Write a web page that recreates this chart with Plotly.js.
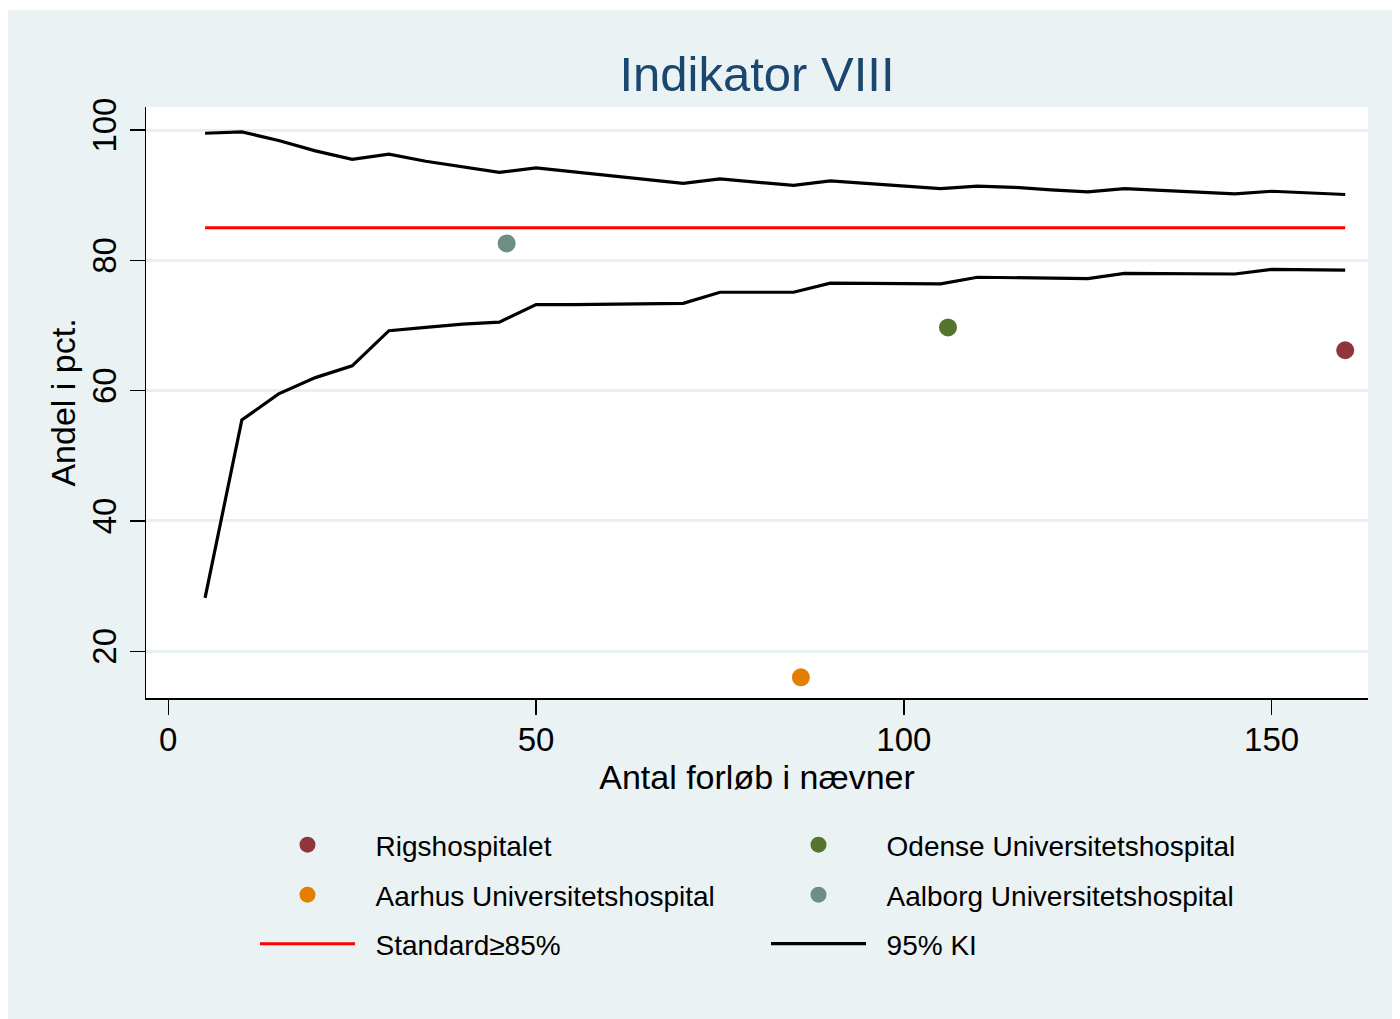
<!DOCTYPE html>
<html>
<head>
<meta charset="utf-8">
<script src="https://cdn.plot.ly/plotly-3.0.1.min.js"></script>
<style>html,body{margin:0;padding:0;background:#fff;}#chart{width:1400px;height:1019px;}</style>
</head>
<body>
<div id="chart"></div>
<script>
// ---- data ----
const ciX = [5,10,15,20,25,30,35,40,45,50,55,60,65,70,75,80,85,90,95,100,105,110,115,120,125,130,135,140,145,150,155,160];
const ciUpper = [99.5,99.7,98.4,96.8,95.5,96.3,95.2,94.4,93.5,94.2,93.6,92.9,92.4,91.8,92.5,92.0,91.5,92.2,91.8,91.4,91.0,91.4,91.2,90.8,90.5,91.0,90.7,90.4,90.2,90.6,90.4,90.1];
const ciLower = [28.2,55.5,59.5,62.0,63.8,69.2,69.7,70.2,70.5,73.2,73.2,73.3,73.4,73.4,75.1,75.1,75.1,76.5,76.5,76.4,76.4,77.4,77.3,77.3,77.2,78.0,78.0,77.9,77.9,78.6,78.6,78.5];
const standardX = [5,160];
const standardY = [85,85];
const hospitals = ["Rigshospitalet","Odense Universitetshospital","Aarhus Universitetshospital","Aalborg Universitetshospital"];
const hospN = [160,106,86,46];
const hospPct = [66.2,69.7,16.0,82.6];
const xTicks = [0,50,100,150];
const yTicks = [20,40,60,80,100];

// ---- styles ----
const hospColors = ["#90353B","#55752F","#E37E00","#6E8E84"];
const hospLegend = ["legend","legend","legend2","legend2"];
const FONT = "Liberation Sans, Arial, Helvetica, sans-serif";
const PAD = "\u00A0\u00A0";

const traces = [];
hospitals.forEach((h,i)=>{
  traces.push({
    type:"scatter", mode:"markers", name:PAD+h,
    x:[hospN[i]], y:[hospPct[i]],
    marker:{color:hospColors[i], size:18},
    legend: hospLegend[i]
  });
});
traces.push({type:"scatter",mode:"lines",name:PAD+"Standard≥85%",x:standardX,y:standardY,
  line:{color:"#FF0000",width:3},legend:"legend3"});
traces.push({type:"scatter",mode:"lines",name:PAD+"95% KI",x:ciX,y:ciUpper,
  line:{color:"#000000",width:3.2},legend:"legend3",legendgroup:"ki"});
traces.push({type:"scatter",mode:"lines",name:PAD+"95% KI",x:ciX,y:ciLower,
  line:{color:"#000000",width:3.2},legend:"legend3",legendgroup:"ki",showlegend:false});

function leg(ypx){
  return {orientation:"h", x:(255-146)/1222, xanchor:"left", y:(698-ypx)/591, yanchor:"middle",
    entrywidth:401, entrywidthmode:"pixels", itemwidth:95, bgcolor:"rgba(0,0,0,0)",
    font:{family:FONT,size:28,color:"#000"}, traceorder:"normal"};
}

const layout = {
  width:1400, height:1019,
  paper_bgcolor:"#EAF2F3", plot_bgcolor:"#FFFFFF",
  margin:{l:146,r:32,t:107,b:321},
  font:{family:FONT,color:"#000"},
  title:{text:"Indikator VIII", font:{family:FONT,size:49,color:"#1A476F"},
    xref:"paper", x:0.5, xanchor:"center", yref:"container", y:1-74/1019, yanchor:"middle"},
  xaxis:{range:[-3.03,163.1], tickvals:xTicks, ticktext:xTicks.map(String),
    showgrid:false, zeroline:false, showline:true, linecolor:"#000", linewidth:1.5,
    ticks:"outside", ticklen:15, tickwidth:1.5, tickcolor:"#000", ticklabelstandoff:-3,
    tickfont:{family:FONT,size:33,color:"#000"},
    title:{text:"Antal forløb i nævner", font:{family:FONT,size:34,color:"#000"}, standoff:0}},
  yaxis:{range:[12.83,103.53], tickvals:yTicks, ticktext:yTicks.map(String), tickangle:-90,
    showgrid:true, gridcolor:"#E8F0F2", gridwidth:3, zeroline:false,
    showline:true, linecolor:"#000", linewidth:1.5,
    ticks:"outside", ticklen:15, tickwidth:1.5, tickcolor:"#000",
    tickfont:{family:FONT,size:33,color:"#000"},
    title:{text:"Andel i pct.", font:{family:FONT,size:34,color:"#000"}, standoff:0}},
  showlegend:true,
  legend:leg(845), legend2:leg(895), legend3:leg(944),
  shapes:[
    {type:"rect", xref:"paper", yref:"paper",
     x0:(-2-146)/1222, x1:(1402-146)/1222, y0:(698-1029)/591, y1:(698-0)/591,
     line:{color:"#FFFFFF", width:20}, fillcolor:"rgba(0,0,0,0)", layer:"above"}
  ]
};

Plotly.newPlot("chart", traces, layout, {displayModeBar:false, staticPlot:true});
</script>
</body>
</html>
